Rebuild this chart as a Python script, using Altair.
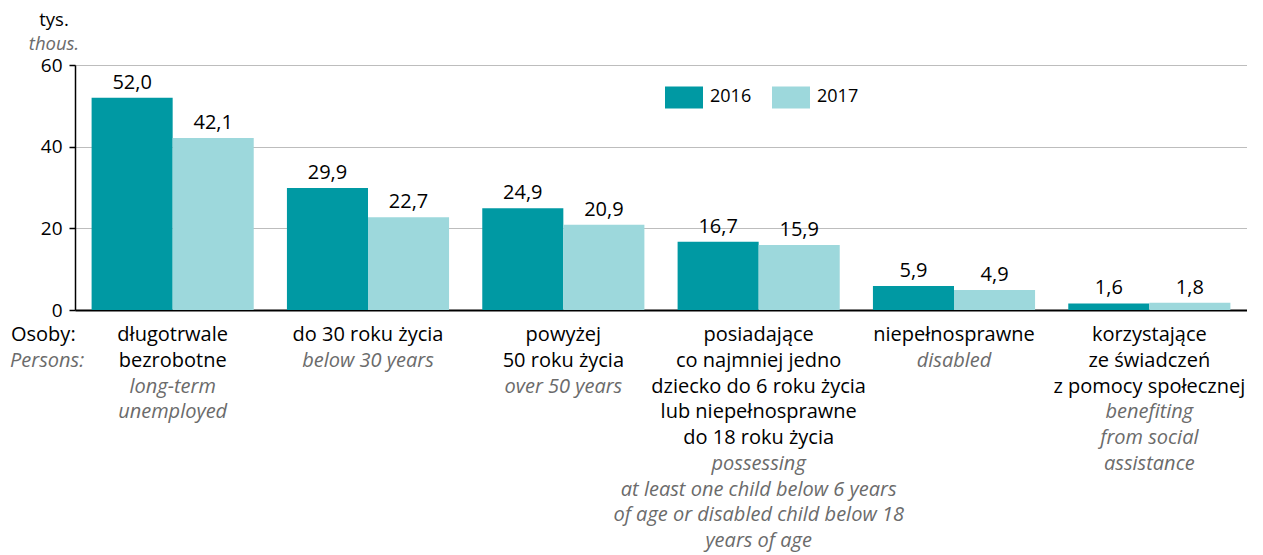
import altair as alt
import pandas as pd

categories = ["c1", "c2", "c3", "c4", "c5", "c6"]
pl_labels = [
    ["długotrwale", "bezrobotne"],
    ["do 30 roku życia"],
    ["powyżej", "50 roku życia"],
    ["posiadające", "co najmniej jedno", "dziecko do 6 roku życia", "lub niepełnosprawne", "do 18 roku życia"],
    ["niepełnosprawne"],
    ["korzystające", "ze świadczeń", "z pomocy społecznej"],
]
en_labels = [
    ["long-term", "unemployed"],
    ["below 30 years"],
    ["over 50 years"],
    ["possessing", "at least one child below 6 years", "of age or disabled child below 18", "years of age"],
    ["disabled"],
    ["benefiting", "from social", "assistance"],
]
years = ["2016", "2017"]
values_2016 = [52.0, 29.9, 24.9, 16.7, 5.9, 1.6]
values_2017 = [42.1, 22.7, 20.9, 15.9, 4.9, 1.8]
y_ticks = [0, 20, 40, 60]
unit_pl, unit_en = "tys.", "thous."
side_pl_txt, side_en_txt = "Osoby:", "Persons:"

FONT = "Open Sans"
FS = 20
LH = 25.75
DARK = "#0099a3"
LIGHT = "#9dd8dc"
GREY = "#6b6b6b"

rows = []
for i, c in enumerate(categories):
    for y, vals in zip(years, [values_2016, values_2017]):
        rows.append({"cat": c, "year": y, "value": vals[i],
                     "label": f"{vals[i]:.1f}".replace(".", ",")})
df = pd.DataFrame(rows)

lrows = []
for c, p, e in zip(categories, pl_labels, en_labels):
    for k, t in enumerate(p):
        lrows.append({"cat": c, "line": k, "text": t, "lang": "pl"})
    for k, t in enumerate(e):
        lrows.append({"cat": c, "line": len(p) + k, "text": t, "lang": "en"})
ldf = pd.DataFrame(lrows)
side_df = pd.DataFrame({"line": [0, 1], "text": [side_pl_txt, side_en_txt],
                        "lang": ["pl", "en"]})

xenc = alt.X("cat:N", sort=categories,
             scale=alt.Scale(paddingInner=0.17, paddingOuter=0.085),
             axis=alt.Axis(labels=False, ticks=False, title=None, domain=True,
                           domainColor="black", domainWidth=2))
yenc = alt.Y("value:Q", scale=alt.Scale(domain=[0, 60]),
             axis=alt.Axis(values=y_ticks, title=None, grid=True, gridColor="#bdbdbd",
                           gridWidth=1.2, domainColor="black", domainWidth=1.5,
                           tickColor="black", tickSize=6, tickWidth=1.5, labelPadding=7,
                           labelFontSize=19, labelColor="black", labelFont=FONT))

bars = alt.Chart(df).mark_bar().encode(
    x=xenc,
    xOffset=alt.XOffset("year:N", sort=years, scale=alt.Scale(paddingInner=0, paddingOuter=0)),
    y=yenc,
    color=alt.Color("year:N", sort=years,
                    scale=alt.Scale(domain=years, range=[DARK, LIGHT]),
                    legend=alt.Legend(title=None, orient="none", legendX=590, legendY=13,
                                      direction="horizontal",
                                      symbolType="M-1,-0.58L1,-0.58L1,0.58L-1,0.58Z",
                                      symbolSize=1444, symbolStrokeWidth=0, symbolOpacity=1,
                                      labelFontSize=18, labelFont=FONT, labelColor="black",
                                      labelOffset=7, columnPadding=20, padding=0)),
)

bar_text = alt.Chart(df).mark_text(baseline="bottom", dy=-5, fontSize=FS, font=FONT,
                                   color="black").encode(
    x=alt.X("cat:N", sort=categories),
    xOffset=alt.XOffset("year:N", sort=years),
    y=alt.Y("value:Q", scale=alt.Scale(domain=[0, 60])),
    text="label:N",
)

line_y = alt.Y("line:Q", scale=alt.Scale(domain=[0, 10], range=[270, 270 + 10 * LH],
                                          nice=False, zero=False), axis=None)

pl_layer = alt.Chart(ldf).transform_filter("datum.lang == 'pl'").mark_text(
    baseline="middle", fontSize=FS, font=FONT, color="black").encode(
    x=alt.X("cat:N", sort=categories), y=line_y, text="text:N")
en_layer = alt.Chart(ldf).transform_filter("datum.lang == 'en'").mark_text(
    baseline="middle", fontSize=FS, font=FONT, color=GREY, fontStyle="italic").encode(
    x=alt.X("cat:N", sort=categories), y=line_y, text="text:N")
side_pl = alt.Chart(side_df).transform_filter("datum.lang == 'pl'").mark_text(
    baseline="middle", align="left", fontSize=FS, font=FONT, color="black").encode(
    x=alt.value(-64), y=line_y, text="text:N")
side_en = alt.Chart(side_df).transform_filter("datum.lang == 'en'").mark_text(
    baseline="middle", align="left", fontSize=FS, font=FONT, color=GREY,
    fontStyle="italic").encode(
    x=alt.value(-65), y=line_y, text="text:N")

unit_df = pd.DataFrame({"pl": [unit_pl], "en": [unit_en]})
unit_pl_m = alt.Chart(unit_df).mark_text(baseline="middle", align="center", fontSize=18.5,
                                         font=FONT, color="black").encode(
    x=alt.value(-21), y=alt.value(-45), text="pl:N")
unit_en_m = alt.Chart(unit_df).mark_text(baseline="middle", align="center", fontSize=18.5,
                                         font=FONT, color=GREY, fontStyle="italic").encode(
    x=alt.value(-21), y=alt.value(-21), text="en:N")

main = alt.layer(bars, bar_text)
labels = alt.layer(pl_layer, en_layer, side_pl, side_en)

chart = alt.layer(main, labels, unit_pl_m, unit_en_m).resolve_scale(
    y="independent"
).properties(
    width=1172, height=245,
    padding={"left": 67, "top": 57, "right": 0, "bottom": 243},
    autosize=alt.AutoSizeParams(type="none"),
).configure_view(stroke=None).configure(font=FONT)

chart.save("out.html", embed_options={"renderer": "svg", "actions": False})
